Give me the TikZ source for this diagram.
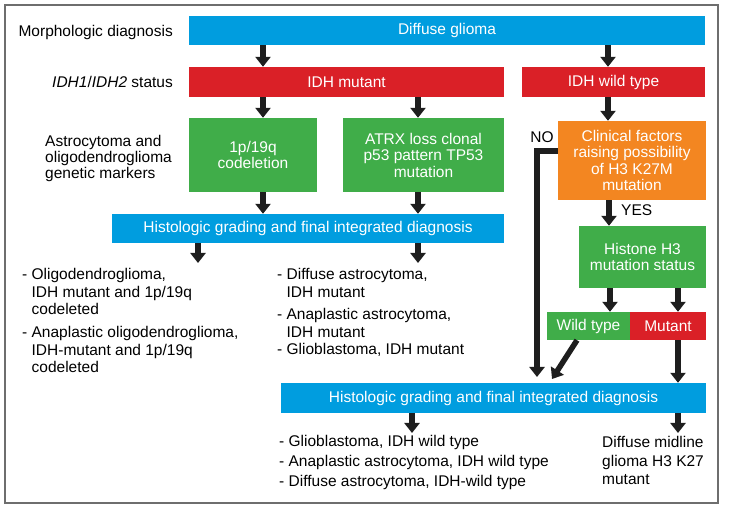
\documentclass[tikz,border=0pt]{standalone}
\usepackage{fontspec}
\setmainfont{Liberation Sans}
\usetikzlibrary{arrows.meta,calc}
\definecolor{cblue}{RGB}{0,157,223}
\definecolor{cred}{RGB}{218,32,39}
\definecolor{cgreen}{RGB}{64,173,73}
\definecolor{corange}{RGB}{243,134,33}
\definecolor{cframe}{RGB}{110,110,110}
\definecolor{carrow}{RGB}{30,30,30}
\begin{document}
\begin{tikzpicture}[x=1pt,y=-1pt,
  box/.style={draw=none,inner sep=0pt,text=white,align=center,
    font=\fontsize{15.5}{16.5}\selectfont},
  lbl/.style={inner sep=0pt,text=black,font=\fontsize{15.5}{15.5}\selectfont},
  lst/.style={inner sep=0pt,text=black,font=\fontsize{15.5}{17.5}\selectfont},
  arr/.style={line width=5.5pt,draw=carrow,-{Triangle[width=15pt,length=10pt]}}]
\useasboundingbox (0,0) rectangle (729,510);
\draw[cframe,line width=1.5pt] (5,5) rectangle (718,503);

% boxes
\node[box,fill=cblue,minimum width=516pt,minimum height=29pt] (glioma) at (447,30.5) {Diffuse glioma};
\node[box,fill=cred,minimum width=315pt,minimum height=30pt] (idhmut) at (346.5,82) {IDH mutant};
\node[box,fill=cred,minimum width=183pt,minimum height=30pt] (idhwt) at (613.5,82) {IDH wild type};
\node[box,fill=cgreen,minimum width=128pt,minimum height=74pt] (codel) at (253,155) {1p/19q\\codeletion};
\node[box,fill=cgreen,minimum width=161pt,minimum height=74pt] (atrx) at (423.5,155) {ATRX loss clonal\\p53 pattern TP53\\mutation};
\node[box,fill=corange,minimum width=148pt,minimum height=79pt] (clin) at (632,160.5) {Clinical factors\\raising possibility\\of H3 K27M\\mutation};
\node[box,fill=cblue,minimum width=392pt,minimum height=29pt] (hga) at (308,228.5) {Histologic grading and final integrated diagnosis};
\node[box,fill=cgreen,minimum width=127pt,minimum height=62pt] (hist) at (642.5,257) {Histone H3\\mutation status};
\node[box,fill=cgreen,minimum width=83pt,minimum height=28pt] (wt) at (588.5,326) {Wild type};
\node[box,fill=cred,minimum width=76pt,minimum height=28pt] (mt) at (668,326) {Mutant};
\node[box,fill=cblue,minimum width=425pt,minimum height=30pt] (hgb) at (493.5,398) {Histologic grading and final integrated diagnosis};

% left labels
\node[lbl,anchor=base east] (l1) at (173,36.5) {Morphologic diagnosis};
\node[lbl,anchor=base east] (l2) at (173,87.5) {\textit{IDH1}/\textit{IDH2} status};
\node[lbl,anchor=base west] (l3) at (45,147) {\begin{tabular}[t]{@{}l@{}}Astrocytoma and\\oligodendroglioma\\genetic markers\end{tabular}};

% lists
\node[lst,anchor=base west] (a1) at (22,280) {\begin{tabular}[t]{@{}l@{\kern4.3pt}l@{}}-&Oligodendroglioma,\\ &IDH mutant and 1p/19q\\ &codeleted\end{tabular}};
\node[lst,anchor=base west] (a2) at (22,338) {\begin{tabular}[t]{@{}l@{\kern4.3pt}l@{}}-&Anaplastic oligodendroglioma,\\ &IDH-mutant and 1p/19q\\ &codeleted\end{tabular}};
\node[lst,anchor=base west] (b1) at (277,280) {\begin{tabular}[t]{@{}l@{\kern4.3pt}l@{}}-&Diffuse astrocytoma,\\ &IDH mutant\end{tabular}};
\node[lst,anchor=base west] (b2) at (277,320) {\begin{tabular}[t]{@{}l@{\kern4.3pt}l@{}}-&Anaplastic astrocytoma,\\ &IDH mutant\end{tabular}};
\node[lst,anchor=base west] (b3) at (277,355) {- Glioblastoma, IDH mutant};
\node[lst,anchor=base west] (c1) at (279,447) {- Glioblastoma, IDH wild type};
\node[lst,anchor=base west] (c2) at (279,467) {- Anaplastic astrocytoma, IDH wild type};
\node[lst,anchor=base west] (c3) at (279,487) {- Diffuse astrocytoma, IDH-wild type};
\node[lst,anchor=base west,font=\fontsize{15.5}{18.5}\selectfont] (d1) at (602,448) {\begin{tabular}[t]{@{}l@{}}Diffuse midline\\glioma H3 K27\\mutant\end{tabular}};

% arrows
\draw[arr] (263,0 |- glioma.south) -- (263,0 |- idhmut.north);
\draw[arr] (608,0 |- glioma.south) -- (608,0 |- idhwt.north);
\draw[arr] (263,0 |- idhmut.south) -- (263,0 |- codel.north);
\draw[arr] (418,0 |- idhmut.south) -- (418,0 |- atrx.north);
\draw[arr] (608,0 |- idhwt.south) -- (608,0 |- clin.north);
\draw[arr] (263,0 |- codel.south) -- (263,0 |- hga.north);
\draw[arr] (418,0 |- atrx.south) -- (418,0 |- hga.north);
\coordinate (ta) at (198,263);
\coordinate (tb) at (418,263);
\draw[arr] (198,0 |- hga.south) -- (ta);
\draw[arr] (418,0 |- hga.south) -- (tb);
\draw[arr] (609,0 |- clin.south) -- (609,0 |- hist.north);
\node[lbl,anchor=base west] (yes) at (621,215.5) {YES};
\draw[arr] (610,0 |- hist.south) -- (610,0 |- wt.north);
\draw[arr] (678,0 |- hist.south) -- (678,0 |- mt.north);
\coordinate (twt) at (552,379);
\draw[arr] (577,0 |- wt.south) -- (twt);
\draw[arr] (678,0 |- mt.south) -- (678,0 |- hgb.north);
\coordinate (tno) at (537,377);
\draw[arr] (0,151 -| clin.west) -- (537,151) -- (tno);
\node[lbl] (no) at (542,137) {NO};
\coordinate (tc) at (412,433);
\coordinate (td) at (678,433);
\draw[arr] (412,0 |- hgb.south) -- (tc);
\draw[arr] (678,0 |- hgb.south) -- (td);
\end{tikzpicture}
\end{document}
